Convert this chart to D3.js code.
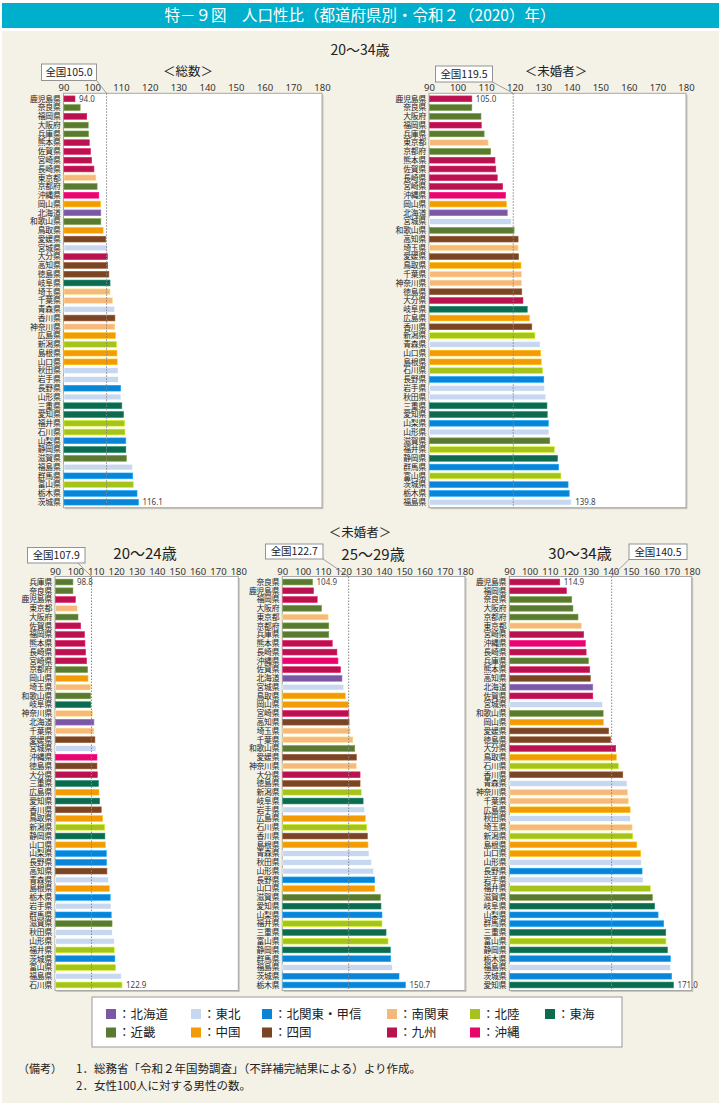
<!DOCTYPE html>
<html>
<head>
<meta charset="utf-8">
<script src="https://cdn.jsdelivr.net/npm/d3@7"></script>
<style>
  body { margin: 0; background: #fff; }
  svg { display: block; font-family: "Noto Sans CJK JP", "Noto Sans", sans-serif; }
</style>
</head>
<body>
<div id="chart"></div>
<script>
// regions and colours used by the legend
const regionNames = ["北海道", "東北", "北関東・甲信", "南関東", "北陸", "東海", "近畿", "中国", "四国", "九州", "沖縄"];
const regionColors = ["#7b58a3", "#c6d7ef", "#0a84d6", "#f7b97b", "#a5c21d", "#0c6b4f", "#5a7a32", "#f39a07", "#7a4524", "#b8124f", "#e8056c"];
const regionMembers = [
  ["北海道"],
  ["青森県", "岩手県", "宮城県", "秋田県", "山形県", "福島県"],
  ["茨城県", "栃木県", "群馬県", "山梨県", "長野県"],
  ["埼玉県", "千葉県", "東京都", "神奈川県"],
  ["新潟県", "富山県", "石川県", "福井県"],
  ["岐阜県", "静岡県", "愛知県", "三重県"],
  ["滋賀県", "京都府", "大阪府", "兵庫県", "奈良県", "和歌山県"],
  ["鳥取県", "島根県", "岡山県", "広島県", "山口県"],
  ["徳島県", "香川県", "愛媛県", "高知県"],
  ["福岡県", "佐賀県", "長崎県", "熊本県", "大分県", "宮崎県", "鹿児島県"],
  ["沖縄県"]
];

const xTicks = [90, 100, 110, 120, 130, 140, 150, 160, 170, 180];

// 20~34 total
const totalPrefs = ["鹿児島県","奈良県","福岡県","大阪府","兵庫県","熊本県","佐賀県","宮崎県","長崎県","東京都","京都府","沖縄県","岡山県","北海道","和歌山県","鳥取県","愛媛県","宮城県","大分県","高知県","徳島県","岐阜県","埼玉県","千葉県","青森県","香川県","神奈川県","広島県","新潟県","島根県","山口県","秋田県","岩手県","長野県","山形県","三重県","愛知県","福井県","石川県","山梨県","静岡県","滋賀県","福島県","群馬県","富山県","栃木県","茨城県"];
const totalValues = [94.0,95.8,98.1,98.6,98.7,99.0,99.4,99.8,100.6,101.3,101.7,102.3,102.9,103.0,103.0,103.8,104.7,105.2,105.3,105.4,105.8,106.2,106.2,107.1,107.8,107.9,107.9,108.1,108.5,108.6,108.7,109.0,109.1,109.9,110.0,110.3,110.9,111.3,111.4,111.7,111.7,111.9,114.0,114.1,114.3,115.6,116.1];

// 20~34 unmarried
const unm2034Prefs = ["鹿児島県","奈良県","大阪府","福岡県","兵庫県","東京都","京都府","熊本県","佐賀県","長崎県","宮崎県","沖縄県","岡山県","北海道","宮城県","和歌山県","高知県","埼玉県","愛媛県","鳥取県","千葉県","神奈川県","徳島県","大分県","岐阜県","広島県","香川県","新潟県","青森県","山口県","島根県","石川県","長野県","岩手県","秋田県","三重県","愛知県","山梨県","山形県","滋賀県","福井県","静岡県","群馬県","富山県","茨城県","栃木県","福島県"];
const unm2034Values = [105.0,105.0,108.2,108.3,109.3,110.7,111.6,113.1,113.4,113.9,115.8,116.8,117.1,117.4,118.8,119.8,121.2,121.2,121.4,122.2,122.4,122.4,122.5,122.9,124.4,125.2,126.0,127.1,128.9,129.1,129.3,129.8,130.2,130.5,130.9,131.3,131.4,131.8,132.0,132.3,133.9,135.0,135.4,136.2,138.7,139.1,139.8];

// 20~24 unmarried
const unm2024Prefs = ["兵庫県","奈良県","鹿児島県","東京都","大阪府","佐賀県","福岡県","熊本県","長崎県","宮崎県","京都府","岡山県","埼玉県","和歌山県","岐阜県","神奈川県","北海道","千葉県","愛媛県","宮城県","沖縄県","徳島県","大分県","三重県","広島県","愛知県","香川県","鳥取県","新潟県","静岡県","山口県","山梨県","長野県","高知県","青森県","島根県","栃木県","岩手県","群馬県","滋賀県","秋田県","山形県","福井県","茨城県","富山県","福島県","石川県"];
const unm2024Values = [98.8,98.8,100.0,100.9,101.3,102.6,104.5,104.7,105.0,105.5,106.0,106.2,107.5,107.5,107.6,108.5,109.1,109.1,109.6,110.1,110.6,110.6,110.8,111.3,111.6,111.9,112.7,113.4,114.4,114.5,114.7,115.2,115.3,115.5,116.3,116.7,117.1,117.5,117.6,118.0,118.1,119.1,119.1,119.4,119.8,122.5,122.9];

// 25~29 unmarried
const unm2529Prefs = ["奈良県","鹿児島県","福岡県","大阪府","東京都","京都府","兵庫県","熊本県","長崎県","沖縄県","佐賀県","北海道","宮城県","鳥取県","岡山県","宮崎県","高知県","埼玉県","千葉県","和歌山県","愛媛県","神奈川県","大分県","徳島県","新潟県","岐阜県","岩手県","広島県","石川県","香川県","島根県","青森県","秋田県","山形県","長野県","山口県","滋賀県","愛知県","山梨県","福井県","三重県","富山県","静岡県","群馬県","福島県","茨城県","栃木県"];
const unm2529Values = [104.9,105.4,107.2,109.3,112.6,112.9,112.9,114.6,116.9,117.4,118.7,119.4,120.3,121.0,122.5,122.8,122.9,123.4,124.8,125.7,126.5,126.5,128.3,128.3,128.9,129.8,130.6,130.9,131.6,131.9,132.2,132.7,134.0,135.0,135.5,135.5,138.3,138.6,139.1,139.1,141.1,142.1,143.2,143.4,144.2,147.5,150.7];

// 30~34 unmarried
const unm3034Prefs = ["鹿児島県","福岡県","奈良県","大阪府","京都府","東京都","宮崎県","沖縄県","長崎県","兵庫県","熊本県","高知県","北海道","佐賀県","宮城県","和歌山県","岡山県","愛媛県","徳島県","大分県","鳥取県","石川県","香川県","青森県","神奈川県","千葉県","広島県","秋田県","埼玉県","新潟県","島根県","山口県","山形県","長野県","岩手県","福井県","滋賀県","岐阜県","山梨県","群馬県","三重県","富山県","静岡県","栃木県","福島県","茨城県","愛知県"];
const unm3034Values = [114.9,118.2,120.8,121.4,123.9,125.6,126.7,127.5,127.9,129.0,129.7,130.0,131.2,131.2,136.1,136.3,136.4,139.0,140.0,142.5,142.8,143.8,146.0,148.1,148.4,148.8,149.6,149.7,150.6,150.9,152.9,154.8,155.2,155.5,156.0,159.6,160.6,161.7,163.4,166.2,167.2,167.3,168.0,169.5,169.6,170.1,171.0];

// national averages
const nationalValues = [105.0, 119.5, 107.9, 122.7, 140.5];

const noteLines = [
  "1．総務省「令和２年国勢調査」（不詳補完結果による）より作成。",
  "2．女性100人に対する男性の数。"
];

// lookup prefecture -> colour
const prefColor = {};
regionMembers.forEach((list, i) => list.forEach(p => { prefColor[p] = regionColors[i]; }));

const W = 721, H = 1103;
const svg = d3.select("#chart").append("svg").attr("width", W).attr("height", H);

// background
svg.append("rect").attr("x", 0).attr("y", 0).attr("width", W).attr("height", H).attr("fill", "#fff");
svg.append("rect").attr("x", 2).attr("y", 31).attr("width", W - 4).attr("height", H - 31).attr("fill", "#f4f1e6");
svg.append("rect").attr("x", 2).attr("y", 3).attr("width", W - 4).attr("height", 25).attr("fill", "#00afcb");
svg.append("text").attr("x", 360).attr("y", 21).attr("text-anchor", "middle")
  .attr("fill", "#fff").attr("font-size", 15.5)
  .text("特－９図　人口性比（都道府県別・令和２（2020）年）");

// section headings
function heading(x, y, size, txt) {
  svg.append("text").attr("x", x).attr("y", y).attr("dy", "0.35em")
    .attr("text-anchor", "middle").attr("font-size", size).attr("fill", "#222").text(txt);
}
heading(360, 50, 14, "20～34歳");
heading(188, 72, 12.5, "＜総数＞");
heading(556, 72, 12.5, "＜未婚者＞");
heading(360, 533, 12.5, "＜未婚者＞");
heading(145, 554, 15, "20～24歳");
heading(373, 555, 15, "25～29歳");
heading(580, 554, 15, "30～34歳");

function drawPanel(cfg) {
  const x = d3.scaleLinear().domain([90, 180]).range([cfg.x0, cfg.x1]);
  const y = d3.scaleBand().domain(cfg.names).range([cfg.y0, cfg.y1])
    .paddingInner(0.34).paddingOuter(0.3);
  const g = svg.append("g");

  // frame with a soft shadow
  g.append("rect").attr("x", cfg.x0 + 1.5).attr("y", cfg.y0 + 1.5)
    .attr("width", cfg.x1 - cfg.x0).attr("height", cfg.y1 - cfg.y0).attr("fill", "#c9c6bd");
  g.append("rect").attr("x", cfg.x0).attr("y", cfg.y0)
    .attr("width", cfg.x1 - cfg.x0).attr("height", cfg.y1 - cfg.y0)
    .attr("fill", "#fff").attr("stroke", "#a8a8a8").attr("stroke-width", 1);

  // x axis on top
  const axis = d3.axisTop(x).tickValues(xTicks).tickSize(0).tickPadding(2);
  const ag = g.append("g").attr("transform", `translate(0,${cfg.y0})`).call(axis);
  ag.select(".domain").remove();
  ag.selectAll("text").attr("font-size", 9.5).attr("fill", "#333")
    .attr("font-family", "'Noto Sans', sans-serif");

  // bars
  g.selectAll("rect.bar").data(cfg.names).enter().append("rect")
    .attr("class", "bar")
    .attr("x", x(90) + 0.5)
    .attr("y", d => y(d))
    .attr("width", (d, i) => x(cfg.values[i]) - x(90) - 0.5)
    .attr("height", y.bandwidth())
    .attr("fill", d => prefColor[d])
    .attr("stroke", d => d3.color(prefColor[d]).brighter(0.7))
    .attr("stroke-width", 0.6);

  // prefecture names
  g.selectAll("text.pref").data(cfg.names).enter().append("text")
    .attr("class", "pref")
    .attr("x", x(90) - 3)
    .attr("y", d => y(d) + y.bandwidth() / 2)
    .attr("dy", "0.36em")
    .attr("text-anchor", "end")
    .attr("font-size", 7.8)
    .attr("letter-spacing", -0.2)
    .attr("fill", "#222")
    .text(d => d);

  // first / last value labels
  const n = cfg.names.length;
  [0, n - 1].forEach(i => {
    g.append("text")
      .attr("x", x(cfg.values[i]) + 4)
      .attr("y", y(cfg.names[i]) + y.bandwidth() / 2)
      .attr("dy", "0.36em")
      .attr("font-size", 8).attr("fill", "#444")
      .attr("font-family", "'Noto Sans', sans-serif")
      .text(cfg.values[i].toFixed(1));
  });

  // national average line
  const nx = x(cfg.national);
  g.append("line").attr("x1", nx).attr("x2", nx).attr("y1", cfg.y0).attr("y2", cfg.y1)
    .attr("stroke", "#888").attr("stroke-width", 1).attr("stroke-dasharray", "1.5,1.5");
  g.append("line").attr("x1", cfg.lead[0]).attr("y1", cfg.lead[1]).attr("x2", nx).attr("y2", cfg.y0)
    .attr("stroke", "#888").attr("stroke-width", 0.8);
  const b = cfg.box;
  g.append("rect").attr("x", b[0]).attr("y", b[1]).attr("width", b[2]).attr("height", b[3])
    .attr("fill", "#fff").attr("stroke", "#888").attr("stroke-width", 0.9);
  g.append("text").attr("x", b[0] + b[2] / 2).attr("y", b[1] + b[3] / 2).attr("dy", "0.36em")
    .attr("text-anchor", "middle").attr("font-size", 10.5).attr("fill", "#222")
    .text("全国" + cfg.national.toFixed(1));
}

drawPanel({ names: totalPrefs, values: totalValues, national: nationalValues[0],
  x0: 63.5, x1: 322, y0: 93.3, y1: 507.7, box: [41.5, 64, 55, 16.5], lead: [96.5, 80.5] });
drawPanel({ names: unm2034Prefs, values: unm2034Values, national: nationalValues[1],
  x0: 429, x1: 686, y0: 93.3, y1: 507.7, box: [435.5, 66, 57, 16], lead: [492.5, 82] });
drawPanel({ names: unm2024Prefs, values: unm2024Values, national: nationalValues[2],
  x0: 55, x1: 238.3, y0: 576.5, y1: 990.5, box: [27.5, 547.5, 57.5, 15.5], lead: [78, 563] });
drawPanel({ names: unm2529Prefs, values: unm2529Values, national: nationalValues[3],
  x0: 282.3, x1: 465, y0: 576.5, y1: 990.5, box: [265.5, 544, 57.5, 15], lead: [323, 559] });
drawPanel({ names: unm3034Prefs, values: unm3034Values, national: nationalValues[4],
  x0: 509.3, x1: 691.7, y0: 576.5, y1: 990.5, box: [629, 544, 58, 15.5], lead: [629, 559.5] });

// legend
svg.append("rect").attr("x", 92).attr("y", 997).attr("width", 530).attr("height", 50)
  .attr("fill", "#fff").attr("stroke", "#999").attr("stroke-width", 1);
const legendCols = [106, 191, 262, 387, 470, 545];
regionNames.forEach((name, i) => {
  const lx = legendCols[i % 6];
  const ly = i < 6 ? 1014 : 1032.5;
  svg.append("rect").attr("x", lx).attr("y", ly - 5).attr("width", 10).attr("height", 10)
    .attr("fill", regionColors[i]);
  svg.append("text").attr("x", lx + 12).attr("y", ly).attr("dy", "0.36em")
    .attr("font-size", 12.5).attr("fill", "#222").text("：" + name);
});

// notes
svg.append("text").attr("x", 18).attr("y", 1069).attr("dy", "0.36em")
  .attr("font-size", 11).attr("fill", "#222").text("（備考）");
noteLines.forEach((t, i) => {
  svg.append("text").attr("x", 76).attr("y", 1069 + i * 16.5).attr("dy", "0.36em")
    .attr("font-size", 11.5).attr("fill", "#222").text(t);
});
</script>
</body>
</html>
